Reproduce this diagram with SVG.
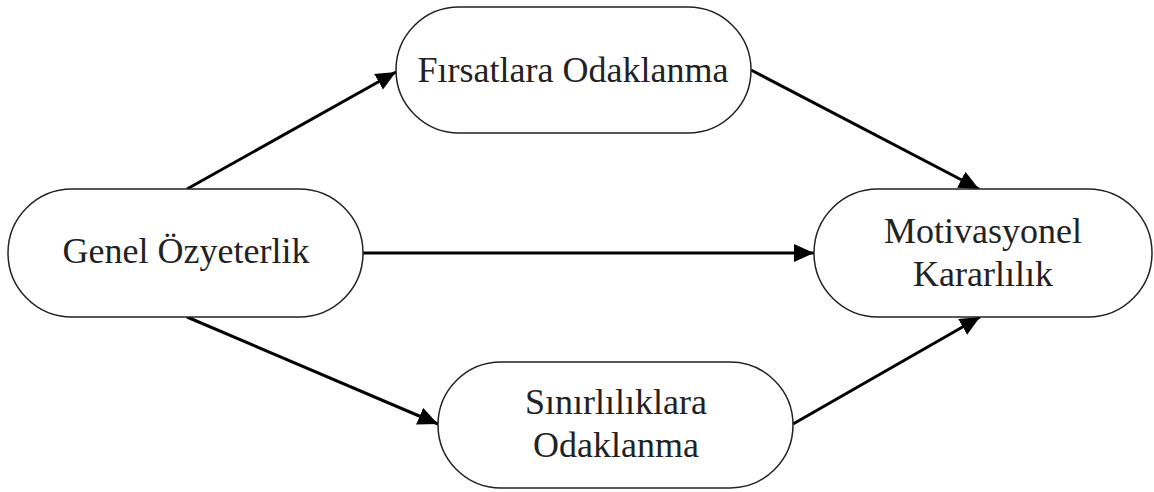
<svg xmlns="http://www.w3.org/2000/svg" width="1154" height="492" viewBox="0 0 1154 492">
<style>
.node rect{fill:#fff;stroke:#222;stroke-width:1.5}
.node text{font-family:"Liberation Serif","Times New Roman",serif;font-size:36px;fill:#222;text-anchor:middle}
.edge{stroke:#000;stroke-width:3;fill:none;marker-end:url(#ah)}
</style>
<defs>
<marker id="ah" markerUnits="userSpaceOnUse" markerWidth="22" markerHeight="20" refX="20" refY="9" orient="auto">
<path d="M0,0 L20,9 L0,18 Z" fill="#000"/>
</marker>
</defs>
<rect width="1154" height="492" fill="#fff"/>
<g id="connectors">
<line class="edge" x1="187" y1="189" x2="396" y2="72"/>
<line class="edge" x1="751" y1="70" x2="979" y2="189"/>
<line class="edge" x1="363" y1="253" x2="814" y2="253"/>
<line class="edge" x1="187" y1="317" x2="438" y2="424"/>
<line class="edge" x1="793" y1="424" x2="980" y2="317"/>
</g>
<g id="genel" class="node">
<rect x="8" y="189" width="355" height="128" rx="64"/>
<text x="186" y="263">Genel Özyeterlik</text>
</g>
<g id="firsatlara" class="node">
<rect x="396" y="7" width="355" height="126" rx="63"/>
<text x="573" y="82">Fırsatlara Odaklanma</text>
</g>
<g id="sinirliliklara" class="node">
<rect x="438" y="362" width="355" height="126" rx="63"/>
<text x="616" y="414">Sınırlılıklara</text>
<text x="616" y="457">Odaklanma</text>
</g>
<g id="motivasyonel" class="node">
<rect x="814" y="189" width="338" height="128" rx="64"/>
<text x="983" y="243">Motivasyonel</text>
<text x="983" y="286">Kararlılık</text>
</g>
</svg>
